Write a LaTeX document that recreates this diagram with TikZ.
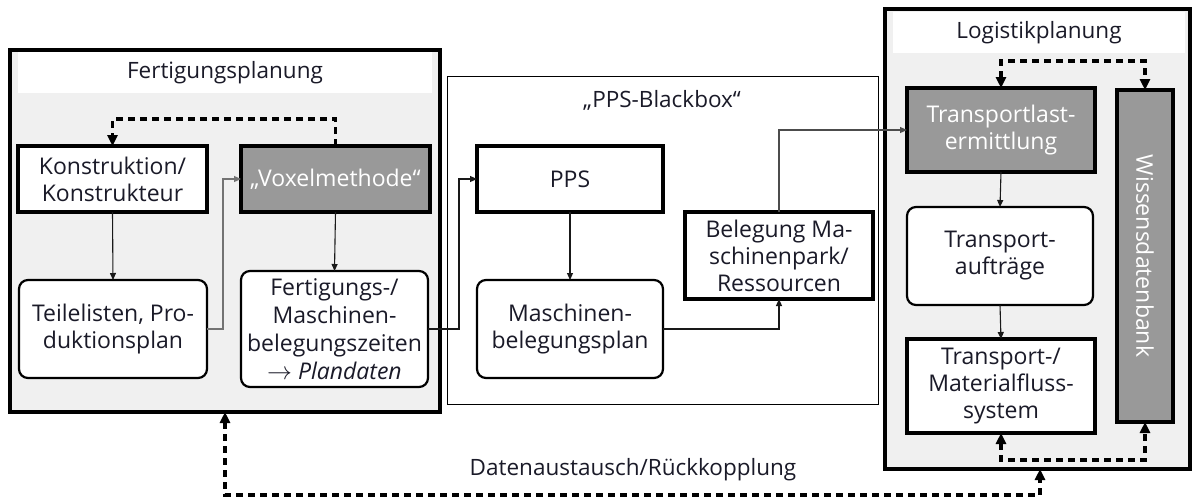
\documentclass[tikz,border=0pt]{standalone}
\usepackage{fontspec}
\setmainfont{Open Sans}
\usetikzlibrary{arrows.meta}
\definecolor{bgc}{HTML}{F0F0F0}
\definecolor{gboxc}{HTML}{999999}
\definecolor{txtc}{HTML}{1A1A28}
\begin{document}
\begin{tikzpicture}[x=1pt,y=-1pt,
  font=\fontsize{23}{27}\selectfont,
  group/.style={draw=black, line width=4pt, fill=bgc, inner sep=0pt, outer sep=0pt},
  hdr/.style={fill=white, inner sep=0pt, outer sep=0pt, text=txtc, font=\fontsize{22.5}{27}\selectfont},
  sbox/.style={draw=black, line width=3.2pt, fill=white, inner sep=0pt, outer sep=0pt, align=center, text=txtc},
  gbx/.style={sbox, fill=gboxc, text=white},
  rbox/.style={draw=black, line width=2.2pt, fill=white, rounded corners=9pt, inner sep=0pt, outer sep=0pt, align=center, text=txtc},
  flow/.style={-{Triangle[length=7pt,width=6pt]}, line width=1.1pt, draw=black!90},
  gflow/.style={flow, draw=black!55},
  dflow/.style={line width=3.4pt, dash pattern=on 7pt off 5pt, {Triangle[length=11pt,width=10pt]}-{Triangle[length=11pt,width=10pt]}},
  dflowone/.style={line width=3.4pt, dash pattern=on 7pt off 5pt, -{Triangle[length=11pt,width=10pt]}}
]
\useasboundingbox (0,0) rectangle (1192,499);
\fill[white] (0,0) rectangle (1192,499);

% Fertigungsplanung
\node[group, minimum width=430pt, minimum height=362pt] (fp) at (225,231) {};
\node[hdr, minimum width=414pt, minimum height=41pt] (fph) at (225,72.5) {Fertigungsplanung};
\node[sbox, minimum width=189pt, minimum height=66pt] (kon) at (112.5,179) {Konstruktion/\\Konstrukteur};
\node[gbx, minimum width=189pt, minimum height=66pt] (vox) at (335.5,179) {„Voxelmethode“};
\node[rbox, minimum width=188pt, minimum height=98pt] (teil) at (113,329) {Teilelisten, Pro-\\duktionsplan};
\node[rbox, minimum width=187pt, minimum height=116pt, font=\fontsize{23}{28}\selectfont] (fert) at (334.5,329) {Fertigungs-/\\Maschinen-\\belegungszeiten\\$\rightarrow$~\textit{Plandaten}};

% PPS-Blackbox
\node[draw=black, line width=1pt, fill=white, inner sep=0pt, outer sep=0pt, minimum width=431pt, minimum height=328pt] (bb) at (662.5,240) {};
\node[text=txtc, font=\fontsize{22.5}{27}\selectfont, inner sep=0pt] (bbl) at (662,100) {„PPS-Blackbox“};
\node[sbox, minimum width=186pt, minimum height=66pt] (pps) at (570,179) {PPS};
\node[rbox, minimum width=186pt, minimum height=98pt] (masch) at (570,329) {Maschinen-\\belegungsplan};
\node[sbox, minimum width=188pt, minimum height=87pt] (bel) at (779,255.5) {Belegung Ma-\\schinenpark/\\Ressourcen};

% Logistikplanung
\node[group, minimum width=305pt, minimum height=460pt] (lp) at (1037.5,239) {};
\node[hdr, minimum width=292pt, minimum height=41pt] (lph) at (1039,32.5) {Logistikplanung};
\node[gbx, minimum width=188pt, minimum height=84pt] (tl) at (1001,130) {Transportlast-\\ermittlung};
\node[gbx, minimum width=56pt, minimum height=332pt] (wis) at (1145,256) {};
\node[text=white, rotate=-90, inner sep=0pt] (wist) at (1145,256) {Wissensdatenbank};
\node[rbox, minimum width=186pt, minimum height=98pt] (ta) at (1000,256) {Transport-\\aufträge};
\node[sbox, minimum width=188pt, minimum height=94pt] (tm) at (1001,386) {Transport-/\\Materialfluss-\\system};

% connectors Fertigungsplanung
\draw[dflowone] (vox.north) -- ++(0,-27) -| (kon.north);
\draw[flow] (kon.south) -- (teil.north);
\draw[gflow] (teil.east) -- ++(16,0) |- (vox.west);
\draw[flow] (vox.south) -- (fert.north);
\draw[flow] (fert.east) -- ++(31,0) |- (pps.west);

% PPS
\draw[flow] (pps.south) -- (masch.north);
\draw[flow] (masch.east) -| (bel.south);
\draw[flow, draw=black!70] (bel.north) |- (tl.west);

% Logistik
\draw[dflow] (tl.north) -- ++(0,-27) -| (wis.north);
\draw[flow] (tl.south) -- (ta.north);
\draw[flow] (ta.south) -- (tm.north);
\draw[dflow] (tm.south) -- ++(0,27) -| (wis.south);

% Datenaustausch
\draw[dflow] (fp.south) -- (225,495) -| ([xshift=2.5pt]lp.south);
\node[text=txtc, font=\fontsize{22.5}{27}\selectfont, inner sep=0pt] (dl) at (633,470) {Datenaustausch/Rückkopplung};
\end{tikzpicture}
\end{document}
